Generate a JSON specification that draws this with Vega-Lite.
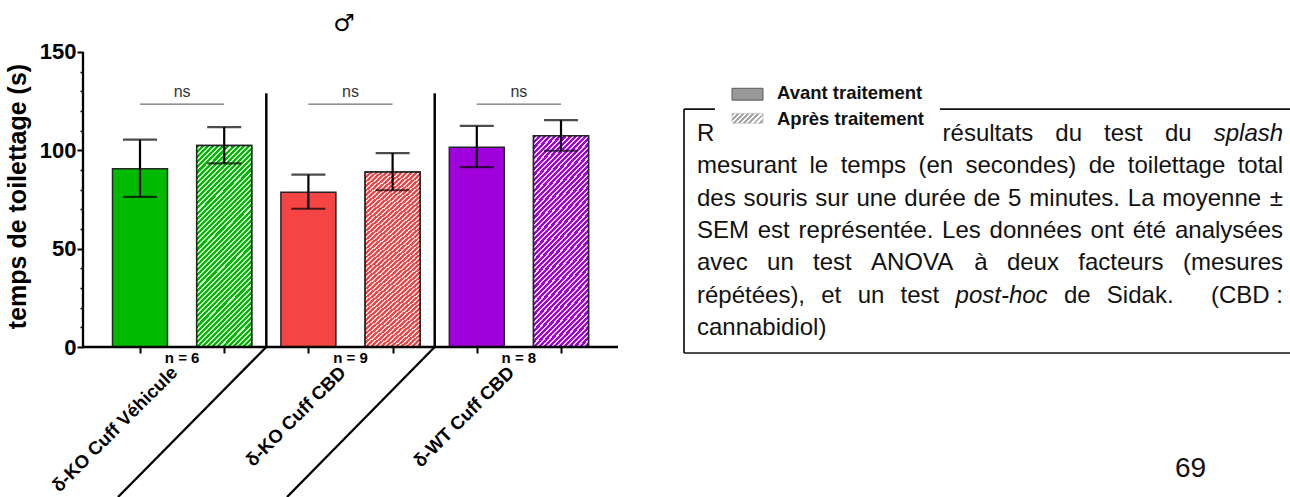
{
  "$schema": "https://vega.github.io/schema/vega-lite/v6.json",
  "width": 1207,
  "height": 497,
  "autosize": {"type": "none"},
  "padding": {"left": 83, "top": 0, "right": 0, "bottom": 0},
  "background": "white",
  "config": {"view": {"stroke": null}, "font": "Liberation Sans"},
  "resolve": {"axis": {"x": "independent", "y": "independent"}},
  "datasets": {
    "bars": [
      {"group": "δ-KO Cuff Véhicule", "treatment": "Avant traitement", "pos": 1, "mean": 90.6, "lo": 76.3, "hi": 105.4},
      {"group": "δ-KO Cuff Véhicule", "treatment": "Après traitement", "pos": 2, "mean": 102.4, "lo": 93.4, "hi": 111.8},
      {"group": "δ-KO Cuff CBD", "treatment": "Avant traitement", "pos": 3, "mean": 78.7, "lo": 70.3, "hi": 87.6},
      {"group": "δ-KO Cuff CBD", "treatment": "Après traitement", "pos": 4, "mean": 89.0, "lo": 79.7, "hi": 98.6},
      {"group": "δ-WT Cuff CBD", "treatment": "Avant traitement", "pos": 5, "mean": 101.6, "lo": 91.5, "hi": 112.4},
      {"group": "δ-WT Cuff CBD", "treatment": "Après traitement", "pos": 6, "mean": 107.4, "lo": 99.8, "hi": 115.4}
    ],
    "groups": [
      {"group": "δ-KO Cuff Véhicule", "center": 1.5, "left": 1, "right": 2, "nlab": "n = 6"},
      {"group": "δ-KO Cuff CBD", "center": 3.5, "left": 3, "right": 4, "nlab": "n = 9"},
      {"group": "δ-WT Cuff CBD", "center": 5.5, "left": 5, "right": 6, "nlab": "n = 8"}
    ],
    "seps": [{"sep": 2.5}, {"sep": 4.5}],
    "lines": [
      {"x": 0.323, "y": 0, "x2": 0.323, "y2": 150},
      {"x": 0.323, "y": 0, "x2": 6.677, "y2": 0},
      {"x": 2.5, "y": 0, "x2": 0.739, "y2": -76.27},
      {"x": 4.5, "y": 0, "x2": 2.746, "y2": -76.27}
    ],
    "box": [
      {"x": 7.461, "y": 121.0, "x2": 7.461, "y2": -3.05},
      {"x": 7.461, "y": 121.0, "x2": 14.66, "y2": 121.0},
      {"x": 7.461, "y": -3.05, "x2": 14.66, "y2": -3.05}
    ],
    "wordsL": [
      {"t": "R", "x": 7.615, "y": 104.75},
      {"t": "résultats", "x": 10.532, "y": 104.75},
      {"t": "du", "x": 11.871, "y": 104.75},
      {"t": "test", "x": 12.450, "y": 104.75},
      {"t": "du", "x": 13.172, "y": 104.75},
      {"t": "mesurant", "x": 7.615, "y": 88.32},
      {"t": "le", "x": 8.951, "y": 88.32},
      {"t": "temps", "x": 9.321, "y": 88.32},
      {"t": "(en", "x": 10.245, "y": 88.32},
      {"t": "secondes)", "x": 10.804, "y": 88.32},
      {"t": "de", "x": 12.267, "y": 88.32},
      {"t": "toilettage", "x": 12.732, "y": 88.32},
      {"t": "des", "x": 7.615, "y": 71.85},
      {"t": "souris", "x": 8.167, "y": 71.85},
      {"t": "sur", "x": 9.021, "y": 71.85},
      {"t": "une", "x": 9.509, "y": 71.85},
      {"t": "durée", "x": 10.078, "y": 71.85},
      {"t": "de", "x": 10.900, "y": 71.85},
      {"t": "5", "x": 11.310, "y": 71.85},
      {"t": "minutes.", "x": 11.562, "y": 71.85},
      {"t": "La", "x": 12.732, "y": 71.85},
      {"t": "moyenne", "x": 13.142, "y": 71.85},
      {"t": "SEM", "x": 7.615, "y": 55.42},
      {"t": "est", "x": 8.337, "y": 55.42},
      {"t": "représentée.", "x": 8.822, "y": 55.42},
      {"t": "Les", "x": 10.526, "y": 55.42},
      {"t": "données", "x": 11.090, "y": 55.42},
      {"t": "ont", "x": 12.289, "y": 55.42},
      {"t": "été", "x": 12.790, "y": 55.42},
      {"t": "avec", "x": 7.615, "y": 39.0},
      {"t": "un", "x": 8.447, "y": 39.0},
      {"t": "test", "x": 8.993, "y": 39.0},
      {"t": "ANOVA", "x": 9.682, "y": 39.0},
      {"t": "à", "x": 10.909, "y": 39.0},
      {"t": "deux", "x": 11.296, "y": 39.0},
      {"t": "facteurs", "x": 12.143, "y": 39.0},
      {"t": "répétées),", "x": 7.615, "y": 22.53},
      {"t": "et", "x": 9.091, "y": 22.53},
      {"t": "un", "x": 9.523, "y": 22.53},
      {"t": "test", "x": 10.033, "y": 22.53},
      {"t": "de", "x": 11.973, "y": 22.53},
      {"t": "Sidak.", "x": 12.483, "y": 22.53},
      {"t": "cannabidiol)", "x": 7.615, "y": 6.10}
    ],
    "wordsR": [
      {"t": "total", "x": 14.575, "y": 88.32},
      {"t": "±", "x": 14.575, "y": 71.85},
      {"t": "analysées", "x": 14.575, "y": 55.42},
      {"t": "(mesures", "x": 14.575, "y": 39.0},
      {"t": "(CBD :", "x": 14.575, "y": 22.53}
    ],
    "wordsI": [
      {"t": "splash", "x": 13.752, "y": 104.75},
      {"t": "post-hoc", "x": 10.686, "y": 22.53}
    ],
    "legendBg": [{"x": 7.829, "x2": 10.50, "y": 134.7, "y2": 103.2}],
    "swatch1": [{"x": 8.031, "x2": 8.399, "y": 131.55, "y2": 125.5}],
    "swatch2": [{"x": 8.031, "x2": 8.399, "y": 118.83, "y2": 113.74}],
    "legendText": [
      {"t": "Avant traitement", "x": 8.565, "y": 126.35},
      {"t": "Après traitement", "x": 8.565, "y": 113.13}
    ],
    "symbol": [{"t": "♂", "x": 3.423, "y": 164.2}],
    "page": [{"t": "69", "x": 13.292, "y": -66.25}]
  },
  "layer": [
    {
      "data": {"name": "bars"},
      "mark": {"type": "bar", "width": 55, "stroke": "#262626", "strokeWidth": 1.5},
      "encoding": {
        "x": {
          "field": "pos", "type": "quantitative",
          "scale": {"domain": [0.323, 14.658], "nice": false, "zero": false, "padding": 0},
          "axis": {"values": [1, 2, 3, 4, 5, 6], "labels": false, "domain": false, "grid": false, "ticks": true, "tickSize": 6, "tickWidth": 2, "tickColor": "black", "title": null, "offset": -150, "orient": "bottom"}
        },
        "y": {
          "field": "mean", "type": "quantitative",
          "scale": {"domain": [-76.27, 176.44], "nice": false, "zero": false, "padding": 0},
          "axis": {
            "orient": "left",
            "values": [0, 10, 20, 30, 40, 50, 60, 70, 80, 90, 100, 110, 120, 130, 140, 150],
            "labelExpr": "datum.value % 50 === 0 ? datum.label : ''",
            "tickSize": {"condition": {"test": "datum.value % 50 === 0", "value": 6}, "value": 3},
            "tickWidth": {"condition": {"test": "datum.value % 50 === 0", "value": 2}, "value": 1.5},
            "tickColor": "black", "domain": false, "grid": false,
            "labelFont": "Liberation Sans", "labelFontSize": 22, "labelFontWeight": "bold", "labelColor": "black", "labelPadding": 1,
            "title": "temps de toilettage (s)", "titleFont": "Liberation Sans", "titleFontSize": 25, "titleFontWeight": "bold", "titleColor": "black",
            "titleX": -58, "titleY": 196, "titleAngle": 270, "titleAlign": "center", "titleBaseline": "alphabetic"
          }
        },
        "y2": {"datum": 0},
        "fill": {
          "field": "group", "type": "nominal",
          "scale": {"domain": ["δ-KO Cuff Véhicule", "δ-KO Cuff CBD", "δ-WT Cuff CBD"], "range": ["#00BA00", "#F44444", "#A000DB"]},
          "legend": null
        }
      }
    },
    {
      "data": {"name": "bars"},
      "transform": [{"filter": "datum.treatment === 'Après traitement'"}],
      "mark": {
        "type": "bar", "width": 55, "stroke": "#262626", "strokeWidth": 1.5, "fillOpacity": 0.85,
        "fill": {
          "gradient": "linear", "x1": 0, "y1": 0, "x2": 0.326, "y2": 1.185,
          "stops": [
            {"offset": 0, "color": "transparent"}, {"offset": 0.012, "color": "transparent"}, {"offset": 0.012, "color": "white"}, {"offset": 0.02, "color": "white"},
            {"offset": 0.02, "color": "transparent"}, {"offset": 0.032, "color": "transparent"}, {"offset": 0.032, "color": "white"}, {"offset": 0.04, "color": "white"},
            {"offset": 0.04, "color": "transparent"}, {"offset": 0.052, "color": "transparent"}, {"offset": 0.052, "color": "white"}, {"offset": 0.06, "color": "white"},
            {"offset": 0.06, "color": "transparent"}, {"offset": 0.072, "color": "transparent"}, {"offset": 0.072, "color": "white"}, {"offset": 0.08, "color": "white"},
            {"offset": 0.08, "color": "transparent"}, {"offset": 0.092, "color": "transparent"}, {"offset": 0.092, "color": "white"}, {"offset": 0.1, "color": "white"},
            {"offset": 0.1, "color": "transparent"}, {"offset": 0.112, "color": "transparent"}, {"offset": 0.112, "color": "white"}, {"offset": 0.12, "color": "white"},
            {"offset": 0.12, "color": "transparent"}, {"offset": 0.132, "color": "transparent"}, {"offset": 0.132, "color": "white"}, {"offset": 0.14, "color": "white"},
            {"offset": 0.14, "color": "transparent"}, {"offset": 0.152, "color": "transparent"}, {"offset": 0.152, "color": "white"}, {"offset": 0.16, "color": "white"},
            {"offset": 0.16, "color": "transparent"}, {"offset": 0.172, "color": "transparent"}, {"offset": 0.172, "color": "white"}, {"offset": 0.18, "color": "white"},
            {"offset": 0.18, "color": "transparent"}, {"offset": 0.192, "color": "transparent"}, {"offset": 0.192, "color": "white"}, {"offset": 0.2, "color": "white"},
            {"offset": 0.2, "color": "transparent"}, {"offset": 0.212, "color": "transparent"}, {"offset": 0.212, "color": "white"}, {"offset": 0.22, "color": "white"},
            {"offset": 0.22, "color": "transparent"}, {"offset": 0.232, "color": "transparent"}, {"offset": 0.232, "color": "white"}, {"offset": 0.24, "color": "white"},
            {"offset": 0.24, "color": "transparent"}, {"offset": 0.252, "color": "transparent"}, {"offset": 0.252, "color": "white"}, {"offset": 0.26, "color": "white"},
            {"offset": 0.26, "color": "transparent"}, {"offset": 0.272, "color": "transparent"}, {"offset": 0.272, "color": "white"}, {"offset": 0.28, "color": "white"},
            {"offset": 0.28, "color": "transparent"}, {"offset": 0.292, "color": "transparent"}, {"offset": 0.292, "color": "white"}, {"offset": 0.3, "color": "white"},
            {"offset": 0.3, "color": "transparent"}, {"offset": 0.312, "color": "transparent"}, {"offset": 0.312, "color": "white"}, {"offset": 0.32, "color": "white"},
            {"offset": 0.32, "color": "transparent"}, {"offset": 0.332, "color": "transparent"}, {"offset": 0.332, "color": "white"}, {"offset": 0.34, "color": "white"},
            {"offset": 0.34, "color": "transparent"}, {"offset": 0.352, "color": "transparent"}, {"offset": 0.352, "color": "white"}, {"offset": 0.36, "color": "white"},
            {"offset": 0.36, "color": "transparent"}, {"offset": 0.372, "color": "transparent"}, {"offset": 0.372, "color": "white"}, {"offset": 0.38, "color": "white"},
            {"offset": 0.38, "color": "transparent"}, {"offset": 0.392, "color": "transparent"}, {"offset": 0.392, "color": "white"}, {"offset": 0.4, "color": "white"},
            {"offset": 0.4, "color": "transparent"}, {"offset": 0.412, "color": "transparent"}, {"offset": 0.412, "color": "white"}, {"offset": 0.42, "color": "white"},
            {"offset": 0.42, "color": "transparent"}, {"offset": 0.432, "color": "transparent"}, {"offset": 0.432, "color": "white"}, {"offset": 0.44, "color": "white"},
            {"offset": 0.44, "color": "transparent"}, {"offset": 0.452, "color": "transparent"}, {"offset": 0.452, "color": "white"}, {"offset": 0.46, "color": "white"},
            {"offset": 0.46, "color": "transparent"}, {"offset": 0.472, "color": "transparent"}, {"offset": 0.472, "color": "white"}, {"offset": 0.48, "color": "white"},
            {"offset": 0.48, "color": "transparent"}, {"offset": 0.492, "color": "transparent"}, {"offset": 0.492, "color": "white"}, {"offset": 0.5, "color": "white"},
            {"offset": 0.5, "color": "transparent"}, {"offset": 0.512, "color": "transparent"}, {"offset": 0.512, "color": "white"}, {"offset": 0.52, "color": "white"},
            {"offset": 0.52, "color": "transparent"}, {"offset": 0.532, "color": "transparent"}, {"offset": 0.532, "color": "white"}, {"offset": 0.54, "color": "white"},
            {"offset": 0.54, "color": "transparent"}, {"offset": 0.552, "color": "transparent"}, {"offset": 0.552, "color": "white"}, {"offset": 0.56, "color": "white"},
            {"offset": 0.56, "color": "transparent"}, {"offset": 0.572, "color": "transparent"}, {"offset": 0.572, "color": "white"}, {"offset": 0.58, "color": "white"},
            {"offset": 0.58, "color": "transparent"}, {"offset": 0.592, "color": "transparent"}, {"offset": 0.592, "color": "white"}, {"offset": 0.6, "color": "white"},
            {"offset": 0.6, "color": "transparent"}, {"offset": 0.612, "color": "transparent"}, {"offset": 0.612, "color": "white"}, {"offset": 0.62, "color": "white"},
            {"offset": 0.62, "color": "transparent"}, {"offset": 0.632, "color": "transparent"}, {"offset": 0.632, "color": "white"}, {"offset": 0.64, "color": "white"},
            {"offset": 0.64, "color": "transparent"}, {"offset": 0.652, "color": "transparent"}, {"offset": 0.652, "color": "white"}, {"offset": 0.66, "color": "white"},
            {"offset": 0.66, "color": "transparent"}, {"offset": 0.672, "color": "transparent"}, {"offset": 0.672, "color": "white"}, {"offset": 0.68, "color": "white"},
            {"offset": 0.68, "color": "transparent"}, {"offset": 0.692, "color": "transparent"}, {"offset": 0.692, "color": "white"}, {"offset": 0.7, "color": "white"},
            {"offset": 0.7, "color": "transparent"}, {"offset": 0.712, "color": "transparent"}, {"offset": 0.712, "color": "white"}, {"offset": 0.72, "color": "white"},
            {"offset": 0.72, "color": "transparent"}, {"offset": 0.732, "color": "transparent"}, {"offset": 0.732, "color": "white"}, {"offset": 0.74, "color": "white"},
            {"offset": 0.74, "color": "transparent"}, {"offset": 0.752, "color": "transparent"}, {"offset": 0.752, "color": "white"}, {"offset": 0.76, "color": "white"},
            {"offset": 0.76, "color": "transparent"}, {"offset": 0.772, "color": "transparent"}, {"offset": 0.772, "color": "white"}, {"offset": 0.78, "color": "white"},
            {"offset": 0.78, "color": "transparent"}, {"offset": 0.792, "color": "transparent"}, {"offset": 0.792, "color": "white"}, {"offset": 0.8, "color": "white"},
            {"offset": 0.8, "color": "transparent"}, {"offset": 0.812, "color": "transparent"}, {"offset": 0.812, "color": "white"}, {"offset": 0.82, "color": "white"},
            {"offset": 0.82, "color": "transparent"}, {"offset": 0.832, "color": "transparent"}, {"offset": 0.832, "color": "white"}, {"offset": 0.84, "color": "white"},
            {"offset": 0.84, "color": "transparent"}, {"offset": 0.852, "color": "transparent"}, {"offset": 0.852, "color": "white"}, {"offset": 0.86, "color": "white"},
            {"offset": 0.86, "color": "transparent"}, {"offset": 0.872, "color": "transparent"}, {"offset": 0.872, "color": "white"}, {"offset": 0.88, "color": "white"},
            {"offset": 0.88, "color": "transparent"}, {"offset": 0.892, "color": "transparent"}, {"offset": 0.892, "color": "white"}, {"offset": 0.9, "color": "white"},
            {"offset": 0.9, "color": "transparent"}, {"offset": 0.912, "color": "transparent"}, {"offset": 0.912, "color": "white"}, {"offset": 0.92, "color": "white"},
            {"offset": 0.92, "color": "transparent"}, {"offset": 0.932, "color": "transparent"}, {"offset": 0.932, "color": "white"}, {"offset": 0.94, "color": "white"},
            {"offset": 0.94, "color": "transparent"}, {"offset": 0.952, "color": "transparent"}, {"offset": 0.952, "color": "white"}, {"offset": 0.96, "color": "white"},
            {"offset": 0.96, "color": "transparent"}, {"offset": 0.972, "color": "transparent"}, {"offset": 0.972, "color": "white"}, {"offset": 0.98, "color": "white"},
            {"offset": 0.98, "color": "transparent"}, {"offset": 0.992, "color": "transparent"}, {"offset": 0.992, "color": "white"}, {"offset": 1, "color": "white"}
          ]
        }
      },
      "encoding": {
        "x": {"field": "pos", "type": "quantitative", "axis": null},
        "y": {"field": "mean", "type": "quantitative", "axis": null},
        "y2": {"datum": 0}
      }
    },
    {
      "data": {"name": "bars"},
      "mark": {"type": "rule", "strokeWidth": 2.2, "color": "black"},
      "encoding": {
        "x": {"field": "pos", "type": "quantitative", "axis": null},
        "y": {"field": "lo", "type": "quantitative", "axis": null},
        "y2": {"field": "hi"}
      }
    },
    {
      "data": {"name": "bars"},
      "mark": {"type": "tick", "orient": "horizontal", "size": 34, "thickness": 2.2, "color": "black"},
      "encoding": {
        "x": {"field": "pos", "type": "quantitative", "axis": null},
        "y": {"field": "hi", "type": "quantitative", "axis": null}
      }
    },
    {
      "data": {"name": "bars"},
      "mark": {"type": "tick", "orient": "horizontal", "size": 34, "thickness": 2.2, "color": "black"},
      "encoding": {
        "x": {"field": "pos", "type": "quantitative", "axis": null},
        "y": {"field": "lo", "type": "quantitative", "axis": null}
      }
    },
    {
      "data": {"name": "lines"},
      "mark": {"type": "rule", "strokeWidth": 2.3, "color": "black"},
      "encoding": {
        "x": {"field": "x", "type": "quantitative", "axis": null},
        "y": {"field": "y", "type": "quantitative", "axis": null},
        "x2": {"field": "x2"},
        "y2": {"field": "y2"}
      }
    },
    {
      "data": {"name": "seps"},
      "mark": {"type": "rule", "strokeWidth": 2.5, "color": "black"},
      "encoding": {
        "x": {"field": "sep", "type": "quantitative", "axis": null},
        "y": {"datum": 0, "axis": null},
        "y2": {"datum": 129}
      }
    },
    {
      "data": {"name": "groups"},
      "mark": {"type": "rule", "strokeWidth": 1, "color": "#4d4d4d"},
      "encoding": {
        "x": {"field": "left", "type": "quantitative", "axis": null},
        "x2": {"field": "right"},
        "y": {"datum": 123.5, "axis": null}
      }
    },
    {
      "data": {"name": "groups"},
      "mark": {"type": "text", "text": "ns", "font": "Liberation Sans", "fontSize": 16, "color": "#333333", "align": "center", "baseline": "alphabetic"},
      "encoding": {
        "x": {"field": "center", "type": "quantitative", "axis": null},
        "y": {"datum": 126.9, "axis": null}
      }
    },
    {
      "data": {"name": "groups"},
      "mark": {"type": "text", "font": "Liberation Sans", "fontSize": 15, "fontWeight": "bold", "color": "black", "align": "center", "baseline": "alphabetic"},
      "encoding": {
        "x": {"field": "center", "type": "quantitative", "axis": null},
        "y": {"datum": -7.9, "axis": null},
        "text": {"field": "nlab"}
      }
    },
    {
      "data": {"name": "groups"},
      "mark": {"type": "text", "font": "Liberation Sans", "fontSize": 18.5, "fontWeight": "bold", "color": "black", "align": "right", "baseline": "middle", "angle": 315, "dx": -11},
      "encoding": {
        "x": {"field": "center", "type": "quantitative", "axis": null},
        "y": {"datum": -7.5, "axis": null},
        "text": {"field": "group"}
      }
    },
    {
      "data": {"name": "box"},
      "mark": {"type": "rule", "strokeWidth": 1.7, "color": "#111111"},
      "encoding": {
        "x": {"field": "x", "type": "quantitative", "axis": null},
        "y": {"field": "y", "type": "quantitative", "axis": null},
        "x2": {"field": "x2"},
        "y2": {"field": "y2"}
      }
    },
    {
      "data": {"name": "wordsL"},
      "mark": {"type": "text", "font": "Liberation Sans", "fontSize": 24, "color": "#111111", "align": "left", "baseline": "alphabetic"},
      "encoding": {
        "x": {"field": "x", "type": "quantitative", "axis": null},
        "y": {"field": "y", "type": "quantitative", "axis": null},
        "text": {"field": "t"}
      }
    },
    {
      "data": {"name": "wordsR"},
      "mark": {"type": "text", "font": "Liberation Sans", "fontSize": 24, "color": "#111111", "align": "right", "baseline": "alphabetic"},
      "encoding": {
        "x": {"field": "x", "type": "quantitative", "axis": null},
        "y": {"field": "y", "type": "quantitative", "axis": null},
        "text": {"field": "t"}
      }
    },
    {
      "data": {"name": "wordsI"},
      "mark": {"type": "text", "font": "Liberation Sans", "fontSize": 24, "fontStyle": "italic", "color": "#111111", "align": "left", "baseline": "alphabetic"},
      "encoding": {
        "x": {"field": "x", "type": "quantitative", "axis": null},
        "y": {"field": "y", "type": "quantitative", "axis": null},
        "text": {"field": "t"}
      }
    },
    {
      "data": {"name": "legendBg"},
      "mark": {"type": "rect", "fill": "white"},
      "encoding": {
        "x": {"field": "x", "type": "quantitative", "axis": null},
        "x2": {"field": "x2"},
        "y": {"field": "y", "type": "quantitative", "axis": null},
        "y2": {"field": "y2"}
      }
    },
    {
      "data": {"name": "swatch1"},
      "mark": {"type": "rect", "fill": "#999999", "stroke": "#5a5a5a", "strokeWidth": 1},
      "encoding": {
        "x": {"field": "x", "type": "quantitative", "axis": null},
        "x2": {"field": "x2"},
        "y": {"field": "y", "type": "quantitative", "axis": null},
        "y2": {"field": "y2"}
      }
    },
    {
      "data": {"name": "swatch2"},
      "mark": {
        "type": "rect", "stroke": "#c8c8c8", "strokeWidth": 0.8,
        "fill": {
          "gradient": "linear", "x1": 0, "y1": 0, "x2": 1.198, "y2": 0.386,
          "stops": [
            {"offset": 0, "color": "#a6a6a6"}, {"offset": 0.07, "color": "#a6a6a6"}, {"offset": 0.07, "color": "#ffffff"}, {"offset": 0.125, "color": "#ffffff"},
            {"offset": 0.125, "color": "#a6a6a6"}, {"offset": 0.195, "color": "#a6a6a6"}, {"offset": 0.195, "color": "#ffffff"}, {"offset": 0.25, "color": "#ffffff"},
            {"offset": 0.25, "color": "#a6a6a6"}, {"offset": 0.32, "color": "#a6a6a6"}, {"offset": 0.32, "color": "#ffffff"}, {"offset": 0.375, "color": "#ffffff"},
            {"offset": 0.375, "color": "#a6a6a6"}, {"offset": 0.445, "color": "#a6a6a6"}, {"offset": 0.445, "color": "#ffffff"}, {"offset": 0.5, "color": "#ffffff"},
            {"offset": 0.5, "color": "#a6a6a6"}, {"offset": 0.57, "color": "#a6a6a6"}, {"offset": 0.57, "color": "#ffffff"}, {"offset": 0.625, "color": "#ffffff"},
            {"offset": 0.625, "color": "#a6a6a6"}, {"offset": 0.695, "color": "#a6a6a6"}, {"offset": 0.695, "color": "#ffffff"}, {"offset": 0.75, "color": "#ffffff"},
            {"offset": 0.75, "color": "#a6a6a6"}, {"offset": 0.82, "color": "#a6a6a6"}, {"offset": 0.82, "color": "#ffffff"}, {"offset": 0.875, "color": "#ffffff"},
            {"offset": 0.875, "color": "#a6a6a6"}, {"offset": 0.945, "color": "#a6a6a6"}, {"offset": 0.945, "color": "#ffffff"}, {"offset": 1, "color": "#ffffff"}
          ]
        }
      },
      "encoding": {
        "x": {"field": "x", "type": "quantitative", "axis": null},
        "x2": {"field": "x2"},
        "y": {"field": "y", "type": "quantitative", "axis": null},
        "y2": {"field": "y2"}
      }
    },
    {
      "data": {"name": "legendText"},
      "mark": {"type": "text", "font": "Liberation Sans", "fontSize": 18.5, "fontWeight": "bold", "color": "#111111", "align": "left", "baseline": "alphabetic"},
      "encoding": {
        "x": {"field": "x", "type": "quantitative", "axis": null},
        "y": {"field": "y", "type": "quantitative", "axis": null},
        "text": {"field": "t"}
      }
    },
    {
      "data": {"name": "symbol"},
      "mark": {"type": "text", "font": "DejaVu Sans", "fontSize": 24, "fontWeight": "bold", "color": "black", "align": "center", "baseline": "middle"},
      "encoding": {
        "x": {"field": "x", "type": "quantitative", "axis": null},
        "y": {"field": "y", "type": "quantitative", "axis": null},
        "text": {"field": "t"}
      }
    },
    {
      "data": {"name": "page"},
      "mark": {"type": "text", "font": "Liberation Sans", "fontSize": 28, "color": "#111111", "align": "left", "baseline": "alphabetic"},
      "encoding": {
        "x": {"field": "x", "type": "quantitative", "axis": null},
        "y": {"field": "y", "type": "quantitative", "axis": null},
        "text": {"field": "t"}
      }
    }
  ]
}
